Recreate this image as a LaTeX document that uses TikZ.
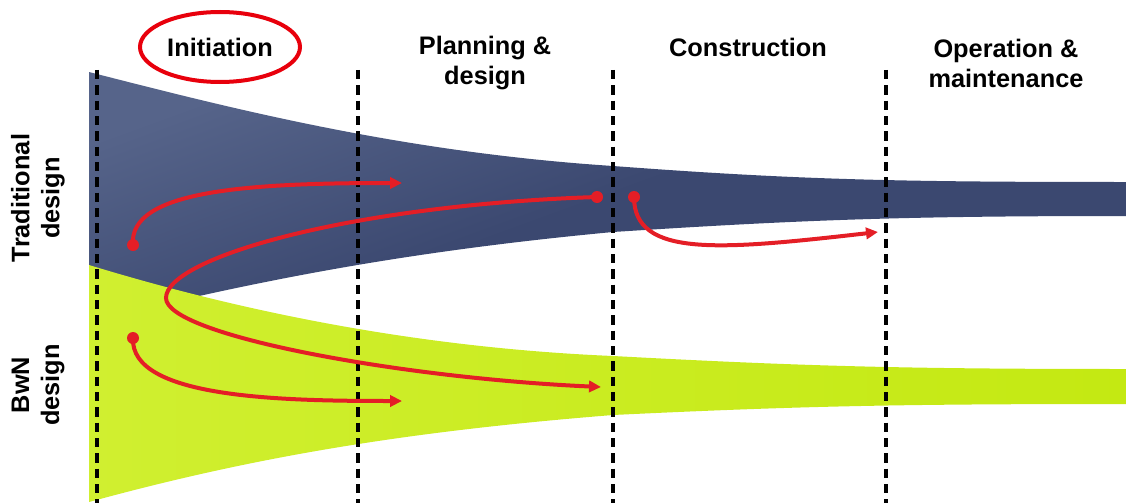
\documentclass[tikz,border=0pt]{standalone}
\usepackage{fontspec}
\setmainfont{Liberation Sans}
\usetikzlibrary{arrows.meta}
\definecolor{navy}{HTML}{3B4870}
\definecolor{navylight}{HTML}{56648A}
\definecolor{lime}{HTML}{C4E912}
\definecolor{limelight}{HTML}{D0EF30}
\definecolor{arrred}{HTML}{E41E26}
\definecolor{ellred}{HTML}{E8000C}
\tikzset{
  phase/.style={font=\bfseries\fontsize{19}{22.5}\selectfont, align=center, text=black},
  rowlabel/.style={font=\bfseries\fontsize{19}{22.5}\selectfont, align=center, rotate=90, text=black},
  divider/.style={black, line width=2.4pt, dash pattern=on 7pt off 4.5pt},
  flow/.style={arrred, line width=3pt, -{Triangle[length=9pt,width=8.5pt]}},
  dot/.style={circle, fill=arrred, inner sep=0pt, minimum size=9pt},
}
\begin{document}
\begin{tikzpicture}[x=0.75pt,y=-0.75pt]
\useasboundingbox (0,0) rectangle (1126,503);
% bands
\shade[top color=navylight, bottom color=navy, middle color=navy, shading angle=20]
  (89,72) .. controls (230,108) and (400,152) .. (613,166)
  .. controls (800,180) and (900,182) .. (1126,182)
  -- (1126,216)
  .. controls (900,216) and (800,220) .. (613,232)
  .. controls (400,252) and (250,282) .. (89,322) -- cycle;
\shade[left color=limelight, right color=lime]
  (89,265) .. controls (220,305) and (400,347) .. (613,356)
  .. controls (800,366) and (900,369) .. (1126,369)
  -- (1126,404)
  .. controls (900,404) and (800,406) .. (613,415)
  .. controls (400,432) and (250,458) .. (89,502) -- cycle;
% dividers
\coordinate (d1t) at (97,70);  \coordinate (d1b) at (97,503);
\coordinate (d2t) at (358,70); \coordinate (d2b) at (358,503);
\coordinate (d3t) at (613,70); \coordinate (d3b) at (613,503);
\coordinate (d4t) at (886,70); \coordinate (d4b) at (886,503);
\draw[divider] (d1t) -- (d1b);
\draw[divider] (d2t) -- (d2b);
\draw[divider] (d3t) -- (d3b);
\draw[divider] (d4t) -- (d4b);
% headers
\node[phase] (init) at (220,47) {Initiation};
\draw[ellred, line width=3pt] (init.center) ellipse [x radius=80, y radius=35];
\node[phase] (plan) at (485,63) {Planning \&\\design};
\node[phase] (cons) at (748,47) {Construction};
\node[phase] (oper) at (1006,63) {Operation \&\\maintenance};
% row labels
\node[rowlabel] (trad) at (38,198) {Traditional\\design};
\node[rowlabel] (bwn) at (38,385) {BwN\\design};
% arrows
\node[dot] (s1) at (133,245) {};
\coordinate (e1) at (402,183);
\draw[flow] (s1.center) .. controls (128,190) and (250,183) .. (e1);
\node[dot] (s2) at (597,197) {};
\coordinate (h2) at (166,298);
\coordinate (e2) at (601,387);
\draw[flow] (s2.center) .. controls (350,205) and (166,258) .. (h2)
  .. controls (166,335) and (400,378) .. (e2);
\node[dot] (s3) at (133,338) {};
\coordinate (e3) at (402,401);
\draw[flow] (s3.center) .. controls (130,398) and (280,401) .. (e3);
\node[dot] (s4) at (634,197) {};
\coordinate (e4) at (878,232);
\draw[flow] (s4.center) .. controls (634,258) and (720,250) .. (e4);
\end{tikzpicture}
\end{document}
